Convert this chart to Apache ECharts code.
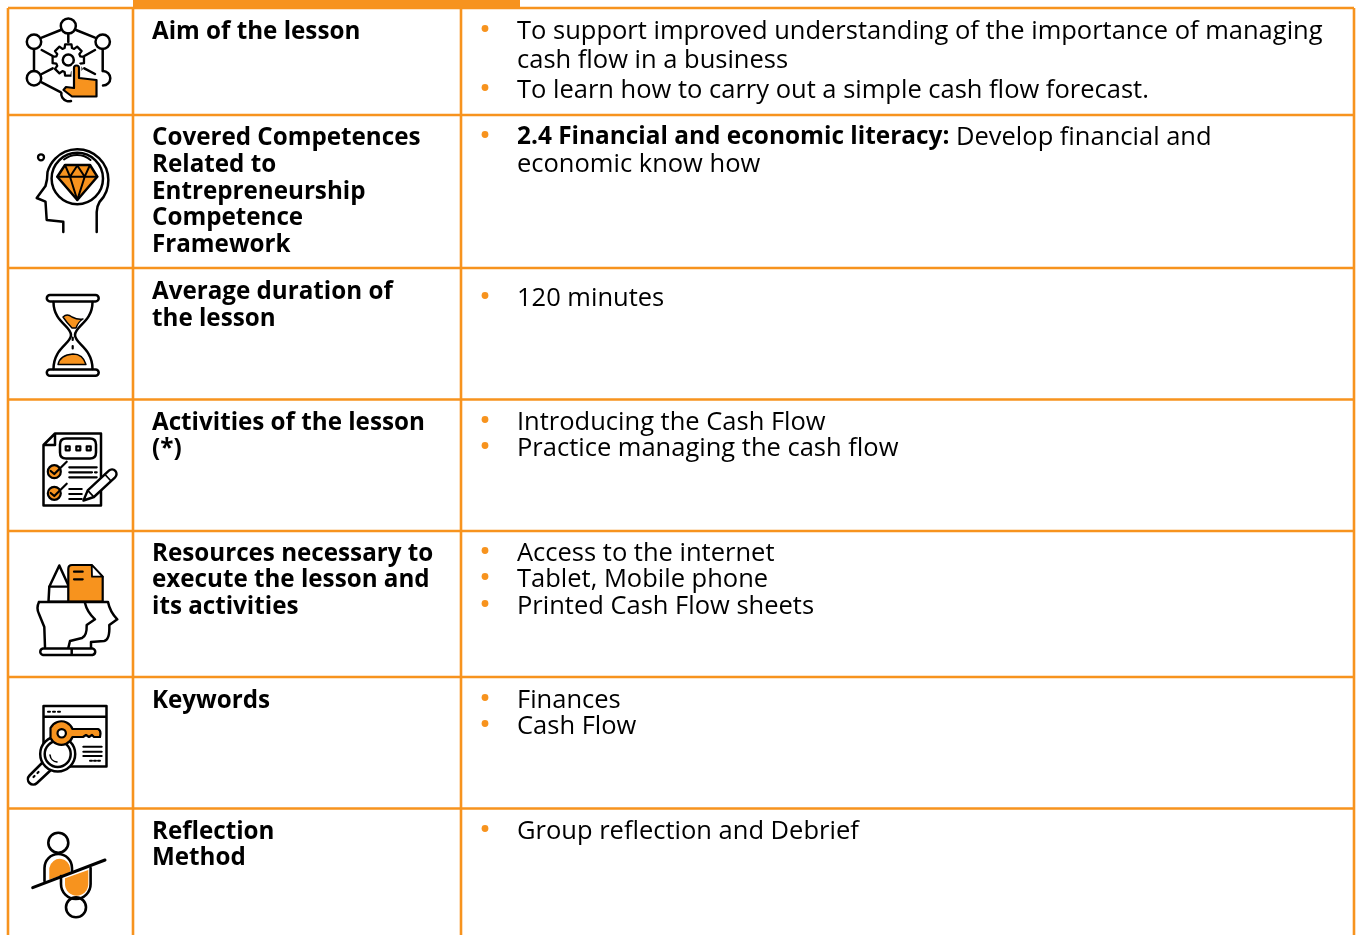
<!DOCTYPE html>
<html lang="en">
  <head>
    <meta charset="UTF-8" />
    <title>Lesson overview</title>
    <style>
      html, body { margin: 0; padding: 0; width: 100%; height: 100%; overflow: hidden; background: #fff; }
      #chart { width: 1357px; height: 935px; }
    </style>
    <script src="https://cdnjs.cloudflare.com/ajax/libs/echarts/6.0.0/echarts.min.js"></script>
  </head>
  <body>
    <div id="chart"></div>
    <script>
      // table content
      const headings = [
        ["Aim of the lesson"],
        ["Covered Competences", "Related to", "Entrepreneurship", "Competence", "Framework"],
        ["Average duration of", "the lesson"],
        ["Activities of the lesson", "(*)"],
        ["Resources necessary to", "execute the lesson and", "its activities"],
        ["Keywords"],
        ["Reflection", "Method"]
      ];
      const details = [
        ["To support improved understanding of the importance of managing", "cash flow in a business", "To learn how to carry out a simple cash flow forecast."],
        ["{b|2.4 Financial and economic literacy:} Develop financial and", "economic know how"],
        ["120 minutes"],
        ["Introducing the Cash Flow", "Practice managing the cash flow"],
        ["Access to the internet", "Tablet, Mobile phone", "Printed Cash Flow sheets"],
        ["Finances", "Cash Flow"],
        ["Group reflection and Debrief"]
      ];
      // wrapped lines get no bullet
      const bulletless = ["cash flow in a business", "economic know how"];

      // layout, in page pixels
      const columnEdges = [8, 133, 461, 1354];
      const rowEdges = [8, 115, 268, 399.5, 531, 677, 808.5];
      const headingY = [[30], [136, 163, 190, 216, 243], [290, 317], [421, 447], [552, 578, 605], [699], [830, 856]];
      const detailY = [[30, 59, 89], [136, 163], [297], [421, 447], [552, 578, 605], [699, 725], [830]];

      const ORANGE = "#F7931E";
      const INK = "#000";
      const FONT = "Open Sans";

      const ring = (x, y, r) => `M${x - r} ${y}A${r} ${r} 0 1 1 ${x + r} ${y}A${r} ${r} 0 1 1 ${x - r} ${y}Z`;

      // gear outline with eight teeth
      function gear(x, y, inner, outer) {
        let d = "";
        for (let i = 0; i < 8; i++) {
          const a = i * Math.PI / 4;
          const pts = [[inner, -0.3], [outer, -0.2], [outer, 0.2], [inner, 0.3]];
          pts.forEach((p) => {
            d += `${d ? "L" : "M"}${x + p[0] * Math.cos(a + p[1])} ${y + p[0] * Math.sin(a + p[1])}`;
          });
        }
        return d + "Z";
      }

      const HAND = "M74 68Q74 65.5 76.5 65.5Q79 65.5 79 68L79 78L96.5 80L96.5 96.5L72 96.5L63.5 90L66 87L74 88Z";

      // icons drawn as [path, fill, lineWidth, stroke]
      const icons = [
        // network with gear and pointer
        [
          [ring(68.3, 26, 7.5), "#fff", 2.5],
          [ring(34, 41.7, 7.2), "#fff", 2.5],
          [ring(102.7, 41.7, 7.2), "#fff", 2.5],
          [ring(34, 78.3, 7.2), "#fff", 2.5],
          ["M103 71A7.2 7.2 0 0 1 103 85.6M61.5 92A7.5 7.5 0 0 0 71 101", "none", 2.5],
          ["M60.7 30L41.7 37.7M76 30L95 37.7M34 49L34 71M102.7 49L102.7 71M41.7 82.3L61 92.3M68.3 33.5L68.3 42M41.7 50L52.7 56M95 50L84.3 56M41.7 74L52.7 68.3M84.3 68.3L95 74", "none", 2.5],
          [gear(68.3, 60, 12.5, 16), "#fff", 2.3],
          [ring(68.3, 60, 5.5), "#fff", 2.5],
          [HAND, "#fff", 5, "#fff"],
          [HAND, ORANGE, 2.2]
        ],
        // head with diamond
        [
          [ring(41, 157.3, 3), "#fff", 2.3],
          ["M96.7 232L96.7 212Q97 206 99.5 202A31 31 0 1 0 47.5 172Q47.5 180 45.5 186L36.7 198L45.5 201.7L46.7 220L63.3 221.7L63.3 232", "none", 2.5],
          [ring(77.3, 178.5, 25.7), "none", 2.5],
          ["M64 159.5A21 21 0 0 1 90.5 160", "none", 2],
          ["M65 165L90 165L97.3 176.7L77.3 200L57.3 176.7Z", ORANGE, 2.5],
          ["M57.3 176.7L97.3 176.7M70 176.7L77.3 200L84.7 176.7M65 165L70 176.7L77.3 165.5L84.7 176.7L90 165", "none", 2]
        ],
        // hourglass
        [
          ["M50 295L95.5 295A3.2 3.2 0 0 1 95.5 301.4L50 301.4A3.2 3.2 0 0 1 50 295ZM50 369.4L95.5 369.4A3.2 3.2 0 0 1 95.5 375.8L50 375.8A3.2 3.2 0 0 1 50 369.4Z", "#fff", 2.5],
          ["M53.5 302C53.5 322 71 326 71 335C71 344 53.5 348 53.5 369M92.5 302C92.5 322 75 326 75 335C75 344 92.5 348 92.5 369", "none", 2.5],
          ["M63 317Q67 313 72 317Q78 320 83 319Q78 322 76 328L72 328Q67 323 63 317Z", ORANGE, 1.4],
          ["M58 364.5Q60 355 73 354Q83 354 86 364.5Z", ORANGE, 1.4],
          ["M72.7 337.5L72.7 340M72.7 346L72.7 348.5", "none", 2.2]
        ],
        // checklist with pencil
        [
          ["M55 433.5L101 433.5L101 505.5L43.5 505.5L43.5 445ZM55 433.5L55 445L43.5 445", "#fff", 2.5],
          ["M66 438.5L90 438.5Q96 438.5 96 444.5L96 452.5Q96 458.5 90 458.5L66 458.5Q60 458.5 60 452.5L60 444.5Q60 438.5 66 438.5Z", "none", 2.5],
          ["M65.7 446.3h4v4h-4ZM76.3 446.3h4v4h-4ZM86.7 446.3h4v4h-4Z", "none", 2.2],
          [ring(54.3, 471.7, 6.5), ORANGE, 2.2],
          [ring(54.3, 493.3, 6.5), ORANGE, 2.2],
          ["M50.7 471L54.3 474L66.7 461.7M50.7 493L54.3 496L66.7 483.7", "none", 2.2],
          ["M69.3 467.3L96.7 467.3M69.3 472.3L92 472.3M95 472.3L96.7 472.3M69.3 477.3L96.7 477.3M69.3 489L81.7 489M69.3 494L81.7 494M69.3 499L81.7 499", "none", 2.2],
          ["M83.5 500.5L87.7 490.4L108.9 470.7A4.5 4.5 0 0 1 115.1 477.3L93.9 497Z", "#fff", 2.4],
          ["M87.7 490.4L93.9 497M105 474.5L111 481", "none", 1.8]
        ],
        // heads with pencil and document
        [
          ["M49.3 586.7L59.3 565.5L69 586.7L69 601.7L48.5 601.7Z", "#fff", 2.5],
          ["M49.3 586.7L69 586.7", "none", 2.2],
          ["M68.3 601.7L68.3 569Q68.3 565 72 565L91.7 565L102.7 576.7L102.7 601.7Z", ORANGE, 2.2],
          ["M91.7 565L92 576.7L102.7 576.7Z", "#fff", 1.8],
          ["M74 571.7L82.7 571.7M74 579.3L82.7 579.3", "none", 2.2],
          ["M39 602L108 602Q110 612 117.3 619.3L109.3 625Q110 640 104 641L91 642L91 648", "none", 2.5],
          ["M39 602Q36 608 39 614L44.3 627L45 647M85 603Q87 612 95 619.3L86.7 625Q87 636 82 638L70 641L68.3 648", "none", 2.5],
          ["M43 648.5L92.5 648.5A3.3 3.3 0 0 1 92.5 655L43 655A3.3 3.3 0 0 1 43 648.5ZM71.7 648.5L71.7 655", "#fff", 2.5]
        ],
        // window, key and magnifier
        [
          ["M43.5 706L106.5 706L106.5 766.5L43.5 766.5ZM43.5 716.7L106.5 716.7", "#fff", 2.5],
          ["M48 711.7L50 711.7M53 711.7L55 711.7M58 711.7L60 711.7M83.3 746.7L101.7 746.7M83.3 751.7L101.7 751.7M83.3 756L101.7 756M90 760.7L92 760.7M94 760.7L96 760.7M98 760.7L100 760.7", "none", 2],
          ["M44 761L29.5 775.5A5 5 0 0 0 37 783L52 769Z", "#fff", 2.5],
          ["M33.5 777L34.5 776M37.5 773L38.5 772", "none", 2.2],
          [ring(57.7, 754, 17.5), "#fff", 2.5],
          [ring(57.7, 754, 13), "#fff", 2.5],
          ["M50 755A8 8 0 0 0 57 762", "none", 1.6],
          ["M50.5 728A12 12 0 0 1 72.5 729L98 729Q100.5 730 100.5 733.5L100 737L94 737L92 735L89 737L86 735L83 737L72.5 737A12 12 0 0 1 50.5 738Z", ORANGE, 2.2],
          [ring(61.7, 733.3, 4.2), "#fff", 2.2]
        ],
        // two figures across a slash
        [
          [ring(58.3, 842.7, 10), "#fff", 2.6],
          [ring(76, 907.3, 10), "#fff", 2.6],
          ["M49.3 879.5L49.3 868A10.5 11 0 0 1 70 868L70 872.7Z", ORANGE, 0],
          ["M65 878.3L88.3 870L88.3 884A11.5 11.5 0 0 1 65 884Z", ORANGE, 0],
          ["M44.5 881L44.5 868A13.7 14 0 0 1 72 868L72 872M61 876L61 884A14.8 15 0 0 0 90.6 884L90.6 868", "none", 2.6],
          ["M32.7 887.7L105 860", "none", 3]
        ]
      ];

      const iconElements = [];
      icons.forEach((parts, i) => {
        parts.forEach((part, j) => {
          const name = `icon_${i}_${j}`;
          echarts.graphic.registerShape(name, echarts.graphic.extendPath(part[0], {}));
          iconElements.push({
            type: name,
            silent: true,
            style: {
              fill: part[1],
              stroke: part[2] ? (part[3] || INK) : "none",
              lineWidth: part[2],
              lineJoin: "round",
              lineCap: part[1] === "none" ? "round" : "butt"
            }
          });
        });
      });

      // rules of the table: [x0, y0, x1, y1]
      const ruleData = [];
      columnEdges.forEach((x) => ruleData.push([x, rowEdges[0], x, 935]));
      rowEdges.forEach((y) => ruleData.push([columnEdges[0], y, columnEdges[3], y]));

      const labelData = [];
      headings.forEach((lines, r) => lines.forEach((text, k) => labelData.push([152, headingY[r][k] + 2, text, "bold"])));
      details.forEach((lines, r) => lines.forEach((text, k) => {
        labelData.push([517, detailY[r][k] + 1.5, text, "normal"]);
        if (!bulletless.includes(text)) labelData.push([485, detailY[r][k] - 1.5, "", "dot"]);
      }));

      const chart = echarts.init(document.getElementById("chart"), null, { renderer: "canvas" });

      chart.setOption({
        animation: false,
        backgroundColor: "#fff",
        grid: { left: 0, right: 0, top: 0, bottom: 0 },
        xAxis: { type: "value", min: 0, max: 1357, show: false },
        yAxis: { type: "value", min: 0, max: 935, inverse: true, show: false },
        graphic: { elements: iconElements },
        series: [
          {
            type: "custom",
            silent: true,
            clip: false,
            coordinateSystem: "cartesian2d",
            encode: { x: [0, 2], y: [1, 3] },
            data: ruleData,
            renderItem: (params, api) => {
              const a = api.coord([api.value(0), api.value(1)]);
              const b = api.coord([api.value(2), api.value(3)]);
              return {
                type: "line",
                shape: { x1: a[0], y1: a[1], x2: b[0], y2: b[1] },
                style: { stroke: ORANGE, lineWidth: 2.6 }
              };
            }
          },
          {
            // thick tab along the top edge
            type: "custom",
            silent: true,
            clip: false,
            data: [[133, 0, 520, 8]],
            encode: { x: [0, 2], y: [1, 3] },
            renderItem: (params, api) => {
              const a = api.coord([api.value(0), api.value(1)]);
              const b = api.coord([api.value(2), api.value(3)]);
              return {
                type: "rect",
                shape: { x: a[0], y: a[1], width: b[0] - a[0], height: b[1] - a[1] },
                style: { fill: ORANGE }
              };
            }
          },
          {
            type: "custom",
            silent: true,
            clip: false,
            encode: { x: 0, y: 1 },
            data: labelData,
            renderItem: (params, api) => {
              const p = api.coord([api.value(0), api.value(1)]);
              const item = labelData[params.dataIndex];
              if (item[3] === "dot") {
                return { type: "circle", shape: { cx: p[0], cy: p[1], r: 3.4 }, style: { fill: ORANGE } };
              }
              const bold = item[3] === "bold";
              return {
                type: "text",
                x: p[0],
                y: p[1],
                style: {
                  text: item[2],
                  fontFamily: FONT,
                  fontSize: bold ? 24.2 : 25.5,
                  fontWeight: bold ? "bold" : "normal",
                  fill: INK,
                  verticalAlign: "middle",
                  rich: { b: { fontFamily: FONT, fontSize: 24.4, fontWeight: "bold", fill: INK } }
                }
              };
            }
          }
        ]
      });
    </script>
  </body>
</html>
